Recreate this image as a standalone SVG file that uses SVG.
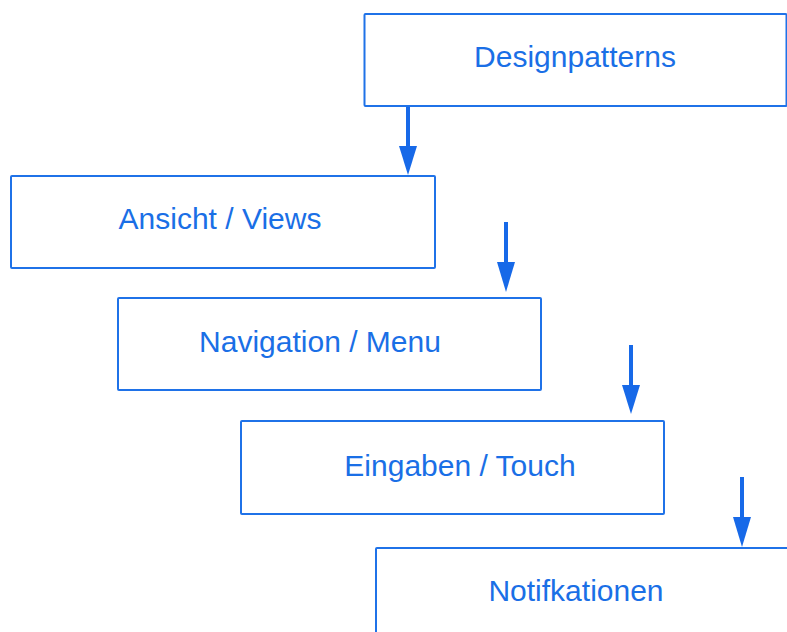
<svg xmlns="http://www.w3.org/2000/svg" width="787" height="632" viewBox="0 0 787 632">
<defs>
<style>
.box{fill:#fff;stroke:#1f72e8;stroke-width:2}
.lbl{fill:#1a6fe6;font-family:"Liberation Sans",Arial,sans-serif;font-size:30px;text-anchor:middle}
.con{stroke:#1769e8;stroke-width:4;fill:none}
.head{fill:#1769e8}
</style>
</defs>
<rect width="787" height="632" fill="#fff"/>
<g id="connectors">
<line class="con" x1="408" y1="106" x2="408" y2="150"/><polygon class="head" points="399,146 417,146 408,175"/>
<line class="con" x1="506" y1="222" x2="506" y2="266"/><polygon class="head" points="497,262 515,262 506,292"/>
<line class="con" x1="631" y1="345" x2="631" y2="389"/><polygon class="head" points="622,385 640,385 631,414"/>
<line class="con" x1="742" y1="477" x2="742" y2="521"/><polygon class="head" points="733,517 751,517 742,547"/>
</g>
<g id="n1"><rect class="box" x="364.5" y="14" width="422" height="92" rx="1"/><text class="lbl" x="575" y="67">Designpatterns</text></g>
<g id="n2"><rect class="box" x="11" y="176" width="424" height="92" rx="1"/><text class="lbl" x="220" y="229">Ansicht / Views</text></g>
<g id="n3"><rect class="box" x="118" y="298" width="423" height="92" rx="1"/><text class="lbl" x="320" y="352">Navigation / Menu</text></g>
<g id="n4"><rect class="box" x="241" y="421" width="423" height="93" rx="1"/><text class="lbl" x="460" y="476">Eingaben / Touch</text></g>
<g id="n5"><rect class="box" x="376" y="548" width="420" height="100" rx="1"/><text class="lbl" x="576" y="601">Notifkationen</text></g>
</svg>
